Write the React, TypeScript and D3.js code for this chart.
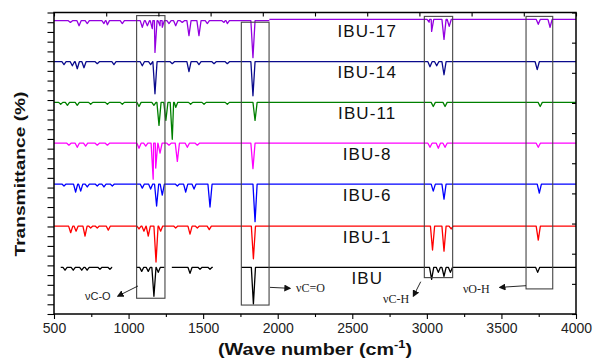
import * as d3 from "d3";
import React, { useEffect, useRef } from "react";

// stacked FTIR traces, bottom to top
const seriesNames = ["IBU", "IBU-1", "IBU-6", "IBU-8", "IBU-11", "IBU-14", "IBU-17"];
const seriesColors = ["#000000", "#ff0000", "#0000ff", "#ff00ff", "#008000", "#0a0a8c", "#9400e0"];
const seriesBase = [24.0, 45.2, 66.8, 87.8, 108.8, 129.7, 150.8];

// absorption dips: [wavenumber, depth below the trace baseline]
const peaksIBU = [
  [574, 1.5], [629, 1.5], [686, 1.5], [722, 1.5], [808, 1], [875, 1],
  [1088, 2.1], [1132, 2.1], [1170, 14.9], [1199, 2.6],
  [1412, 3.1], [1479, 1], [1546, 1], [1837, 18.8],
  [3032, 6.2], [3077, 2.6], [3115, 4.6], [3158, 2.6], [3743, 2.6],
];
const peaksIBU1 = [
  [612, 3.4], [648, 2.6], [708, 5.1], [746, 1], [790, 1], [864, 2.1],
  [1070, 1.5], [1103, 2.6], [1132, 5.1], [1184, 18.5], [1215, 2.6],
  [1316, 1], [1412, 4.1], [1461, 1], [1541, 1.8], [1837, 16.8],
  [3038, 12.3], [3115, 12.9], [3163, 1.5], [3747, 7.2],
];
const peaksIBU6 = [
  [567, 1], [645, 4.1], [679, 3.6], [723, 1.5], [790, 1], [835, 1.5], [891, 1],
  [1092, 2.1], [1148, 2.6], [1188, 11.3], [1226, 5.7],
  [1327, 1], [1383, 4.1], [1439, 2.6], [1546, 11.8], [1848, 19.3],
  [3043, 3.6], [3115, 7.7], [3754, 4.6],
];
const peaksIBU8 = [
  [600, 1], [656, 2.1], [712, 1.5], [790, 1], [858, 1],
  [1070, 2.6], [1115, 1.5], [1165, 18.5], [1182, 12.8], [1211, 5.1],
  [1271, 1], [1327, 9.3], [1394, 2.1], [1461, 1], [1834, 13.1],
  [3021, 2.1], [3077, 2.6], [3122, 2.1], [3747, 2.1],
];
const peaksIBU11 = [
  [545, 1], [590, 1.5], [656, 1.5], [746, 1], [858, 1], [958, 1],
  [1070, 2.1], [1170, 1.5], [1204, 11.8], [1250, 9.3], [1293, 19], [1316, 2.6],
  [1416, 1], [1506, 1], [1662, 1], [1848, 9.3],
  [3043, 2.1], [3122, 2.1], [3760, 2.1],
];
const peaksIBU14 = [
  [567, 1.5], [623, 2.1], [656, 3.6], [701, 3.1], [790, 1], [902, 1.5],
  [1092, 2.1], [1148, 1.5], [1177, 16.5], [1293, 1], [1405, 5.1], [1472, 1.5],
  [1573, 1], [1662, 1], [1834, 17.5],
  [3021, 2.6], [3066, 2.1], [3115, 6.7], [3740, 4.1],
];
const peaksIBU17 = [
  [610, 0.9], [668, 2.6], [723, 1.5], [835, 1.5], [858, 2.1], [958, 1.5],
  [1092, 3.4], [1126, 2.6], [1159, 4.1], [1177, 16.3], [1211, 2.6], [1226, 3.4],
  [1271, 1.5], [1316, 2.6], [1360, 0.9], [1405, 7.7], [1472, 7.7], [1528, 1.5],
  [1640, 0.9], [1662, 1.5], [1834, 19],
  [3015, 1.5], [3032, 6.2], [3115, 10.3], [3150, 3.6], [3747, 2.6], [3826, 4.1],
];
const seriesPeaks = [peaksIBU, peaksIBU1, peaksIBU6, peaksIBU8, peaksIBU11, peaksIBU14, peaksIBU17];

// recorded pieces of each trace: [from, to, baseline shift]
const segmentsIBU = [[545, 890, 0], [1050, 1240, 0], [1290, 1565, 0], [1755, 4000, 0]];
const segmentsFull = [[500, 4000, 0]];
const segmentsIBU17 = [[500, 1944, 0], [1944, 4000, 0.7]];
const seriesSegments = [segmentsIBU, segmentsFull, segmentsFull, segmentsFull, segmentsFull, segmentsFull, segmentsIBU17];

// highlighted bands: [from, to, low, high]
const bandBoxes = [[1054, 1244, 8.1, 153.4], [1756, 1942, 4.6, 150], [2983, 3173, 18.7, 153], [3665, 3844, 12.9, 153]];
const bandNames = ["νC-O", "νC=O", "νC-H", "νO-H"];

const xTicks = [500, 1000, 1500, 2000, 2500, 3000, 3500, 4000];

const App = () => {
  const svgRef = useRef<SVGSVGElement>(null);

  const renderSVG = () => {
    const width = 595;
    const height = 358;
    const m = { top: 12.5, right: 19, bottom: 44, left: 54 };
    const font = "'Liberation Sans', Arial, sans-serif";

    const x = d3.scaleLinear([500, 4000], [m.left, width - m.right]);
    const y = d3.scaleLinear([0, 155], [height - m.bottom, m.top]);

    svgRef.current!.innerHTML = "";
    const svg = d3
      .select(svgRef.current)
      .attr("width", width)
      .attr("height", height)
      .attr("viewBox", [0, 0, width, height])
      .style("position", "fixed")
      .style("left", 0)
      .style("top", 0)
      .style("background", "#fff");

    const defs = svg.append("defs");
    defs
      .append("marker")
      .attr("id", "arrowHead")
      .attr("viewBox", "0 0 10 10")
      .attr("refX", 8)
      .attr("refY", 5)
      .attr("markerWidth", 7)
      .attr("markerHeight", 7)
      .attr("markerUnits", "userSpaceOnUse")
      .attr("orient", "auto")
      .append("path")
      .attr("d", "M0,0 L10,5 L0,10 z")
      .attr("fill", "#111");

    // traces
    const hw = 14; // half width of a dip, cm-1
    const line = d3
      .line<number[]>()
      .x((d) => x(d[0]))
      .y((d) => y(d[1]));

    seriesNames.forEach((name, i) => {
      const base = seriesBase[i];
      seriesSegments[i].forEach(([from, to, shift]) => {
        const lvl = base + shift;
        const pts: number[][] = [[from, lvl], [to, lvl]];
        seriesPeaks[i]
          .filter((p) => p[0] > from && p[0] < to)
          .forEach(([c, d]) => {
            pts.push([Math.max(from, c - hw), lvl]);
            pts.push([c, lvl - d]);
            pts.push([Math.min(to, c + hw), lvl]);
          });
        pts.sort((a, b) => a[0] - b[0]);
        svg
          .append("path")
          .attr("d", line(pts))
          .attr("fill", "none")
          .attr("stroke", seriesColors[i])
          .attr("stroke-width", 1.3)
          .attr("stroke-linejoin", "round");
      });

      svg
        .append("text")
        .attr("x", x(2600))
        .attr("y", y(base) + 11)
        .attr("text-anchor", "middle")
        .attr("dominant-baseline", "central")
        .attr("font-family", font)
        .attr("font-size", 17)
        .attr("letter-spacing", "1.1px")
        .attr("fill", "#111")
        .text(name);
    });

    // band boxes
    svg
      .append("g")
      .selectAll("rect")
      .data(bandBoxes)
      .join("rect")
      .attr("x", (d) => x(d[0]))
      .attr("y", (d) => y(d[3]))
      .attr("width", (d) => x(d[1]) - x(d[0]))
      .attr("height", (d) => y(d[2]) - y(d[3]))
      .attr("fill", "none")
      .attr("stroke", "#444")
      .attr("stroke-width", 1.1);

    // band annotations: arrow from box to label
    const arrowFrom = [[1063, 14.4], [1948, 13.7], [2959, 16.6], [3665, 14.55]];
    const arrowTo = [[929, 9.25], [2082, 13.2], [2910, 9.25], [3490, 13.7]];
    const labelAt = [[708, 7.2], [2123, 11.3], [2706, 5.65], [3242, 10.8]];
    bandNames.forEach((name, i) => {
      svg
        .append("line")
        .attr("x1", x(arrowFrom[i][0]))
        .attr("y1", y(arrowFrom[i][1]))
        .attr("x2", x(arrowTo[i][0]))
        .attr("y2", y(arrowTo[i][1]))
        .attr("stroke", "#111")
        .attr("stroke-width", 0.9)
        .attr("marker-end", "url(#arrowHead)");
      svg
        .append("text")
        .attr("x", x(labelAt[i][0]))
        .attr("y", y(labelAt[i][1]))
        .attr("font-family", i === 0 ? font : "'Liberation Serif', 'Times New Roman', serif")
        .attr("font-size", i === 0 ? 11 : 12)
        .attr("fill", "#222")
        .text(name);
    });

    // axes
    const fixAxis = (g) => {
      g.select(".domain").remove();
      g.selectAll(".tick line").attr("stroke", "#000").attr("stroke-width", 1.1);
    };

    svg
      .append("g")
      .attr("transform", `translate(0, ${y(0)})`)
      .call(d3.axisBottom(x).tickValues(xTicks).tickSize(5).tickPadding(4).tickFormat(d3.format("d")))
      .call(fixAxis)
      .call((g) =>
        g.selectAll(".tick text").attr("font-family", font).attr("font-size", 14).attr("fill", "#222")
      );

    svg
      .append("g")
      .attr("transform", `translate(0, ${y(0)})`)
      .call(d3.axisBottom(x).tickValues(d3.range(750, 4000, 500)).tickSize(3).tickFormat(() => ""))
      .call(fixAxis);

    svg
      .append("g")
      .attr("transform", `translate(0, ${y(155)})`)
      .call(d3.axisTop(x).tickValues(d3.range(500, 4001, 350)).tickSize(-4).tickFormat(() => ""))
      .call(fixAxis);

    svg
      .append("g")
      .attr("transform", `translate(${x(500)}, 0)`)
      .call(d3.axisLeft(y).tickValues(d3.range(0, 156, 5)).tickSize(6.5).tickFormat(() => ""))
      .call(fixAxis);

    svg
      .append("g")
      .attr("transform", `translate(${x(4000)}, 0)`)
      .call(d3.axisRight(y).tickValues(d3.range(0, 155.1, 15.5)).tickSize(-4).tickFormat(() => ""))
      .call(fixAxis);

    svg
      .append("rect")
      .attr("x", x(500))
      .attr("y", y(155))
      .attr("width", x(4000) - x(500))
      .attr("height", y(0) - y(155))
      .attr("fill", "none")
      .attr("stroke", "#000")
      .attr("stroke-width", 1.5);

    // axis titles
    svg
      .append("text")
      .attr("transform", `translate(19.5, 174) rotate(-90)`)
      .attr("text-anchor", "middle")
      .attr("dominant-baseline", "central")
      .attr("font-family", font)
      .attr("font-weight", "bold")
      .attr("font-size", 15)
      .attr("textLength", 165)
      .attr("lengthAdjust", "spacingAndGlyphs")
      .attr("fill", "#111")
      .text("Transmittance (%)");

    const xt = svg
      .append("text")
      .attr("x", 315)
      .attr("y", 355)
      .attr("text-anchor", "middle")
      .attr("font-family", font)
      .attr("font-weight", "bold")
      .attr("font-size", 17)
      .attr("textLength", 194)
      .attr("lengthAdjust", "spacingAndGlyphs")
      .attr("fill", "#111");
    xt.append("tspan").text("(Wave number (cm");
    xt.append("tspan").attr("dy", -7).attr("font-size", 11).text("-1");
    xt.append("tspan").attr("dy", 7).text(")");
  };

  useEffect(() => {
    renderSVG();
  });

  return <svg ref={svgRef} />;
};

export default App;
